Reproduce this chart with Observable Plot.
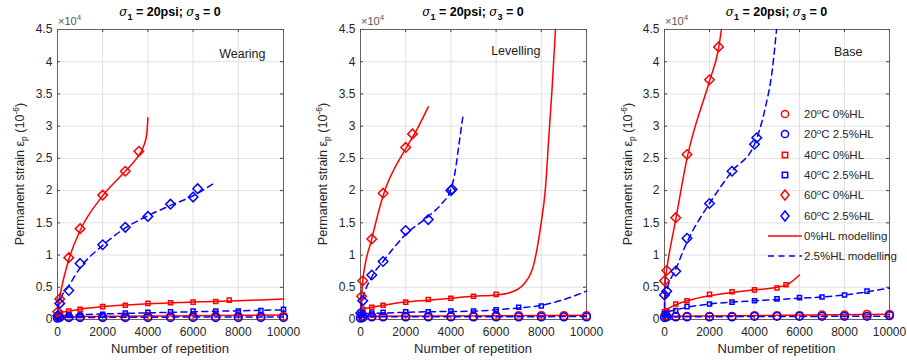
<!DOCTYPE html>
<html>
<head>
<meta charset="utf-8">
<script src="https://cdn.jsdelivr.net/npm/d3@7"></script>
<script src="https://cdn.jsdelivr.net/npm/@observablehq/plot@0.6"></script>
<style>
  html, body { margin: 0; padding: 0; background: #fff; }
  #wrap { position: relative; width: 907px; height: 361px; overflow: hidden; font-family: "Liberation Sans", Arial, sans-serif; }
  .panel { position: absolute; top: 0; height: 361px; }
  .title { position: absolute; top: 4px; text-align: center; font-size: 12.5px; font-weight: bold; color: #000; white-space: nowrap; line-height: 16px; }
  .title i { font-weight: normal; font-family: "DejaVu Serif", serif; font-size: 12px; }
  .title sub { font-size: 9px; vertical-align: -4px; line-height: 0; }
  .mult { position: absolute; top: 14px; font-size: 11px; color: #555; line-height: 14px; }
  .mult sup { font-size: 8px; vertical-align: 5px; line-height: 0; }
  .ylab { position: absolute; top: 174px; transform: translate(-50%, -50%) rotate(-90deg); font-size: 12.5px; color: #262626; white-space: nowrap; line-height: 14px; }
  .ylab sub { font-size: 8.5px; vertical-align: -3px; line-height: 0; }
  .ylab sup { font-size: 8.5px; vertical-align: 5px; line-height: 0; }
  .xlab { position: absolute; top: 341px; text-align: center; font-size: 13px; color: #262626; line-height: 16px; }
  #legend { position: absolute; left: 767px; top: 104px; font-size: 11.5px; color: #262626; }
  #legend .row { height: 20.3px; display: flex; align-items: center; }
  #legend svg { width: 37px; height: 20px; flex: none; }
  #legend sup { font-size: 8px; vertical-align: 4px; line-height: 0; }
</style>
</head>
<body>
<div id="wrap"></div>
<script>
// ---------- tick values ----------
const xTicks = [0, 2000, 4000, 6000, 8000, 10000];
const yTicks = [0, 0.5, 1, 1.5, 2, 2.5, 3, 3.5, 4, 4.5];
const panelNames = ["Wearing", "Levelling", "Base"];
const legendLabels = ["20°C 0%HL", "20°C 2.5%HL", "40°C 0%HL", "40°C 2.5%HL", "60°C 0%HL", "60°C 2.5%HL", "0%HL modelling", "2.5%HL modelling"];

// ---------- Wearing (values ×10^4) ----------
const W_c20_0  = [[0,0.03],[100,0.04],[500,0.04],[1000,0.04],[2000,0.04],[3000,0.04],[4000,0.05],[5000,0.05],[6000,0.05],[7000,0.05],[8000,0.05],[9000,0.05],[10000,0.05]];
const W_c20_25 = [[0,0.02],[100,0.03],[500,0.03],[1000,0.03],[2000,0.03],[3000,0.03],[4000,0.03],[5000,0.03],[6000,0.03],[7000,0.03],[8000,0.03],[9000,0.03],[10000,0.03]];
const W_s40_0  = [[0,0.07],[100,0.1],[500,0.13],[1000,0.16],[2000,0.2],[3000,0.22],[4000,0.25],[5000,0.26],[6000,0.27],[7000,0.28],[7600,0.3]];
const W_s40_25 = [[0,0.04],[100,0.06],[500,0.07],[1000,0.07],[2000,0.08],[3000,0.1],[4000,0.11],[5000,0.12],[6000,0.13],[7000,0.13],[8000,0.13],[9000,0.14],[10000,0.16]];
const W_d60_0  = [[10,0.12],[100,0.32],[500,0.96],[1000,1.41],[2000,1.93],[3000,2.30],[3600,2.61]];
const W_d60_25 = [[10,0.06],[100,0.25],[500,0.45],[1000,0.87],[2000,1.16],[3000,1.43],[4000,1.60],[5000,1.79],[6000,1.90],[6200,2.03]];
const W_m_c20_0  = [[0,0.02],[100,0.04],[1000,0.045],[5000,0.055],[10000,0.07]];
const W_m_c20_25 = [[0,0.01],[100,0.03],[10000,0.04]];
const W_m_s40_0  = [[0,0],[20,0.07],[100,0.1],[500,0.13],[1000,0.16],[2000,0.2],[4000,0.245],[6000,0.27],[8000,0.29],[10000,0.32]];
const W_m_s40_25 = [[0,0],[20,0.04],[100,0.06],[1000,0.075],[3000,0.095],[6000,0.12],[10000,0.15]];
const W_m_d60_0  = [[0,0],[20,0.18],[100,0.35],[500,0.93],[1000,1.38],[2000,1.92],[3000,2.3],[3500,2.5],[3800,2.68],[3950,2.88],[4000,3.13]];
const W_m_d60_25 = [[0,0],[20,0.12],[100,0.28],[500,0.52],[1000,0.8],[2000,1.15],[3000,1.42],[4000,1.61],[5000,1.77],[6000,1.92],[7000,2.13]];

// ---------- Levelling ----------
const L_c20_0  = [[0,0.04],[100,0.05],[500,0.05],[1000,0.05],[2000,0.05],[3000,0.05],[4000,0.05],[5000,0.05],[6000,0.06],[7000,0.06],[8000,0.06],[9000,0.06],[10000,0.06]];
const L_c20_25 = [[0,0.02],[100,0.03],[500,0.04],[1000,0.04],[2000,0.04],[3000,0.04],[4000,0.04],[5000,0.04],[6000,0.04],[7000,0.04],[8000,0.04],[9000,0.04],[10000,0.04]];
const L_s40_0  = [[0,0.12],[100,0.16],[500,0.19],[1000,0.22],[2000,0.27],[3000,0.31],[4000,0.33],[5000,0.36],[6000,0.39]];
const L_s40_25 = [[0,0.08],[100,0.1],[500,0.1],[1000,0.11],[2000,0.12],[3000,0.12],[4000,0.13],[5000,0.13],[6000,0.15],[7000,0.19],[8000,0.21]];
const L_d60_0  = [[50,0.36],[100,0.6],[500,1.25],[1000,1.96],[2000,2.67],[2300,2.88]];
const L_d60_25 = [[10,0.1],[100,0.29],[500,0.69],[1000,0.9],[2000,1.38],[3000,1.55],[4000,2.0],[4050,2.02]];
const L_m_c20_0  = [[0,0.02],[100,0.05],[10000,0.065]];
const L_m_c20_25 = [[0,0.01],[100,0.04],[10000,0.045]];
const L_m_s40_0  = [[0,0],[20,0.12],[100,0.16],[500,0.19],[1000,0.22],[2000,0.27],[3000,0.3],[4000,0.33],[5000,0.36],[6000,0.38],[6640,0.42],[7230,0.55],[7670,0.86],[7965,1.43],[8186,2.05],[8333,2.83],[8482,3.61],[8628,4.5]];
const L_m_s40_25 = [[0,0],[20,0.07],[100,0.09],[1000,0.1],[3000,0.12],[5000,0.13],[6000,0.15],[7000,0.18],[8000,0.22],[9000,0.31],[10000,0.44]];
const L_m_d60_0  = [[0,0],[20,0.2],[50,0.37],[100,0.6],[500,1.25],[1000,1.92],[2000,2.65],[2500,2.95],[3000,3.3]];
const L_m_d60_25 = [[0,0],[20,0.15],[100,0.3],[500,0.66],[1000,0.9],[2000,1.32],[3000,1.6],[3600,1.8],[4000,2.02],[4170,2.26],[4350,2.7],[4530,3.15]];

// ---------- Base ----------
const B_c20_0  = [[0,0.05],[100,0.05],[500,0.05],[1000,0.05],[2000,0.05],[3000,0.05],[4000,0.06],[5000,0.06],[6000,0.06],[7000,0.07],[8000,0.07],[9000,0.08],[10000,0.08]];
const B_c20_25 = [[0,0.03],[100,0.04],[500,0.04],[1000,0.04],[2000,0.04],[3000,0.04],[4000,0.05],[5000,0.05],[6000,0.05],[7000,0.05],[8000,0.05],[9000,0.05],[10000,0.06]];
const B_s40_0  = [[0,0.12],[100,0.14],[500,0.24],[1000,0.29],[2000,0.39],[3000,0.43],[4000,0.46],[5000,0.49],[5400,0.54]];
const B_s40_25 = [[0,0.09],[100,0.1],[500,0.14],[1000,0.2],[2000,0.24],[3000,0.27],[4000,0.29],[5000,0.32],[6000,0.34],[7000,0.35],[8000,0.38],[9000,0.44]];
const B_d60_0  = [[0,0.6],[100,0.76],[500,1.58],[1000,2.56],[2000,3.72],[2400,4.23]];
const B_d60_25 = [[0,0.38],[100,0.44],[500,0.75],[1000,1.26],[2000,1.80],[3000,2.30],[4000,2.72],[4100,2.82]];
const B_m_c20_0  = [[0,0.02],[100,0.05],[10000,0.08]];
const B_m_c20_25 = [[0,0.01],[100,0.04],[10000,0.05]];
const B_m_s40_0  = [[0,0],[20,0.12],[100,0.15],[500,0.23],[1000,0.29],[2000,0.37],[3000,0.42],[4000,0.46],[5000,0.5],[5500,0.55],[6000,0.69]];
const B_m_s40_25 = [[0,0],[20,0.08],[100,0.11],[500,0.15],[1000,0.19],[2000,0.24],[3000,0.27],[4000,0.29],[5000,0.31],[6000,0.33],[7000,0.35],[8000,0.38],[9000,0.43],[10000,0.49]];
const B_m_d60_0  = [[0,0],[10,0.45],[50,0.65],[100,0.78],[500,1.55],[1000,2.5],[2000,3.7],[2400,4.2],[2530,4.5]];
const B_m_d60_25 = [[0,0],[10,0.3],[100,0.45],[500,0.78],[1000,1.2],[2000,1.8],[3000,2.3],[4000,2.72],[4120,2.83],[4490,3.3],[4790,3.87],[4980,4.5]];

// ---------- assembly ----------
const RED = "#ff0000", BLUE = "#0000ff";
const panelsData = [
  {pts: [W_c20_0, W_c20_25, W_s40_0, W_s40_25, W_d60_0, W_d60_25], mods: [W_m_c20_0, W_m_c20_25, W_m_s40_0, W_m_s40_25, W_m_d60_0, W_m_d60_25]},
  {pts: [L_c20_0, L_c20_25, L_s40_0, L_s40_25, L_d60_0, L_d60_25], mods: [L_m_c20_0, L_m_c20_25, L_m_s40_0, L_m_s40_25, L_m_d60_0, L_m_d60_25]},
  {pts: [B_c20_0, B_c20_25, B_s40_0, B_s40_25, B_d60_0, B_d60_25], mods: [B_m_c20_0, B_m_c20_25, B_m_s40_0, B_m_s40_25, B_m_d60_0, B_m_d60_25]}
];
const layout = [
  {left: 0,   width: 302, mL: 57, mR: 19, tdx: -18, tdy: 20, ylx: 20},
  {left: 302, width: 302, mL: 58, mR: 18, tdx: -46, tdy: 17, ylx: 21},
  {left: 604, width: 303, mL: 60, mR: 18, tdx: -27, tdy: 18, ylx: 24}
];
const symbols = ["circle", "circle", "square2", "square2", "diamond2", "diamond2"];
const radii = [3.9, 3.9, 2.6, 2.6, 4.3, 4.3];
const colors = [RED, BLUE, RED, BLUE, RED, BLUE];

const H = 361, MT = 29, MB = 42;
const plotH = H - MT - MB;
const wrap = document.getElementById("wrap");

panelsData.forEach((pd, i) => {
  const L = layout[i];
  const plotW = L.width - L.mL - L.mR;
  const gx = d => d[0], gy = d => d[1];
  const marks = [
    Plot.gridX(xTicks, {stroke: "#e2e2e2", strokeOpacity: 1}),
    Plot.gridY(yTicks, {stroke: "#e2e2e2", strokeOpacity: 1}),
    Plot.axisX(xTicks, {tickSize: 0, tickPadding: 8, tickFormat: d => String(d), label: null, fontSize: 12, fill: "#262626"}),
    Plot.axisY(yTicks, {tickSize: 0, tickPadding: 5, tickFormat: d => String(d), label: null, fontSize: 12, fill: "#262626"}),
    Plot.tickX(xTicks, {insetTop: plotH - 3, stroke: "#444"}),
    Plot.tickX(xTicks, {insetBottom: plotH - 3, stroke: "#444"}),
    Plot.tickY(yTicks, {insetRight: plotW - 3, stroke: "#444"}),
    Plot.tickY(yTicks, {insetLeft: plotW - 3, stroke: "#444"}),
    Plot.frame({stroke: "#555", strokeWidth: 0.9})
  ];
  pd.mods.forEach((m, k) => {
    marks.push(Plot.line(m, {x: gx, y: gy, stroke: colors[k], strokeWidth: 1.5, curve: "monotone-x",
      strokeDasharray: colors[k] === BLUE ? "6,4.5" : null}));
  });
  pd.pts.forEach((p, k) => {
    marks.push(Plot.dot(p, {x: gx, y: gy, symbol: symbols[k], r: radii[k], stroke: colors[k], strokeWidth: 1.5, fill: "none"}));
  });
  marks.push(Plot.text([panelNames[i]], {text: d => d, frameAnchor: "top-right", dx: L.tdx, dy: L.tdy, fontSize: 12.5, fill: "#1a1a1a"}));

  const svg = Plot.plot({
    width: L.width, height: H,
    marginLeft: L.mL, marginRight: L.mR, marginTop: MT, marginBottom: MB,
    x: {domain: [0, 10000]},
    y: {domain: [0, 4.5]},
    style: {fontFamily: '"Liberation Sans", Arial, sans-serif', background: "transparent", overflow: "visible"},
    marks
  });
  const div = document.createElement("div");
  div.className = "panel";
  div.style.left = L.left + "px";
  div.style.width = L.width + "px";
  div.appendChild(svg);

  const t = document.createElement("div");
  t.className = "title";
  t.style.left = L.mL + "px"; t.style.width = plotW + "px";
  t.innerHTML = '<i>σ</i><sub>1</sub> = 20psi; <i>σ</i><sub>3</sub> = 0';
  div.appendChild(t);

  const m = document.createElement("div");
  m.className = "mult";
  m.style.left = (L.mL + 1) + "px";
  m.innerHTML = '×10<sup>4</sup>';
  div.appendChild(m);

  const yl = document.createElement("div");
  yl.className = "ylab";
  yl.style.left = L.ylx + "px";
  yl.innerHTML = 'Permanent strain ε<sub>p</sub> (10<sup>-6</sup>)';
  div.appendChild(yl);

  const xl = document.createElement("div");
  xl.className = "xlab";
  xl.style.left = L.mL + "px"; xl.style.width = plotW + "px";
  xl.textContent = "Number of repetition";
  div.appendChild(xl);

  wrap.appendChild(div);
});

// ---------- legend ----------
const leg = document.createElement("div");
leg.id = "legend";
const icon = (k) => {
  const c = k < 6 ? colors[k] : (k === 6 ? RED : BLUE);
  if (k === 0 || k === 1) return `<circle cx="18" cy="10" r="3.6" fill="none" stroke="${c}" stroke-width="1.5"/>`;
  if (k === 2 || k === 3) return `<rect x="15.3" y="7.3" width="5.4" height="5.4" fill="none" stroke="${c}" stroke-width="1.5"/>`;
  if (k === 4 || k === 5) return `<polygon points="18,5 22,10 18,15 14,10" fill="none" stroke="${c}" stroke-width="1.5"/>`;
  if (k === 6) return `<line x1="1" x2="35" y1="10" y2="10" stroke="${c}" stroke-width="1.5"/>`;
  return `<line x1="1" x2="35" y1="10" y2="10" stroke="${c}" stroke-width="1.5" stroke-dasharray="6,4.5"/>`;
};
legendLabels.forEach((lab, k) => {
  const row = document.createElement("div");
  row.className = "row";
  const html = lab.replace("°", "<sup>o</sup>");
  row.innerHTML = `<svg viewBox="0 0 37 20">${icon(k)}</svg><span>${html}</span>`;
  leg.appendChild(row);
});
wrap.appendChild(leg);
</script>
</body>
</html>
